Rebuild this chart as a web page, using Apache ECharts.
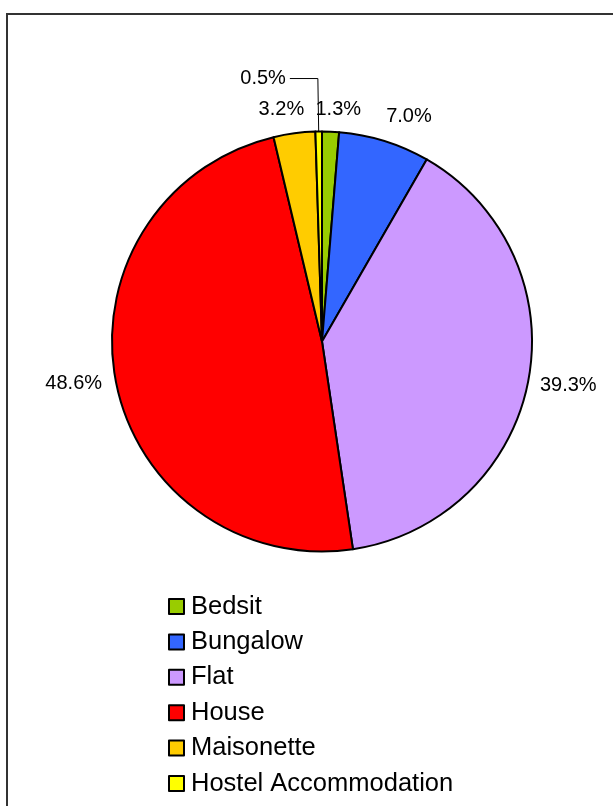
<!DOCTYPE html>
<html>
<head>
<meta charset="utf-8">
<script src="https://cdn.jsdelivr.net/npm/echarts@6/dist/echarts.min.js"></script>
<style>
html,body{margin:0;padding:0;background:#fff;}
#chart{width:613px;height:806px;}
</style>
</head>
<body>
<div id="chart"></div>
<script>
const categories = ["Bedsit", "Bungalow", "Flat", "House", "Maisonette", "Hostel Accommodation"];
const values = [1.3, 7.0, 39.3, 48.6, 3.2, 0.5];
const colors = ["#99CC00", "#3366FF", "#CC99FF", "#FF0000", "#FFCC00", "#FFFF00"];

// per-slice label placement styles (line length, second segment, distance)
const labelLen = [22, 26, 24, 14, 24, 53];
const labelLen2 = [0, 0, 0, 0, 0, 28];
const labelDist = [-16, -6, -12, 0, -13, 4];
const showLine = [false, false, false, false, false, true];

const FONT = "'Liberation Sans', Arial, Helvetica, sans-serif";

const data = categories.map((c, i) => ({
  name: c,
  value: values[i],
  itemStyle: { color: colors[i] },
  label: { distanceToLabelLine: labelDist[i] },
  labelLine: { show: showLine[i], length: labelLen[i], length2: labelLen2[i] }
}));

const chart = echarts.init(document.getElementById('chart'), null, { renderer: 'canvas' });
chart.setOption({
  animation: false,
  backgroundColor: '#ffffff',
  graphic: [{
    type: 'rect',
    silent: true,
    shape: { x: 7, y: 14, width: 800, height: 1000 },
    style: { fill: 'none', stroke: '#333333', lineWidth: 2 }
  }],
  legend: {
    orient: 'vertical',
    left: 168,
    top: 593.5,
    padding: 0,
    itemWidth: 15,
    itemHeight: 15,
    itemGap: 9.4,
    icon: 'rect',
    itemStyle: { borderColor: '#000', borderWidth: 2 },
    textStyle: { fontFamily: FONT, fontSize: 25.5, color: '#000', lineHeight: 24, padding: [0, 0, 0, 2] },
    data: categories
  },
  series: [{
    type: 'pie',
    center: [322, 341.5],
    radius: 210,
    startAngle: 90,
    clockwise: true,
    avoidLabelOverlap: false,
    emphasis: { disabled: true },
    itemStyle: { borderColor: '#000', borderWidth: 2 },
    label: {
      show: true,
      position: 'outside',
      formatter: p => p.value.toFixed(1) + '%',
      fontFamily: FONT,
      fontSize: 20,
      color: '#000'
    },
    labelLine: { lineStyle: { color: '#000', width: 1 }, smooth: false },
    data: data
  }]
});
</script>
</body>
</html>
